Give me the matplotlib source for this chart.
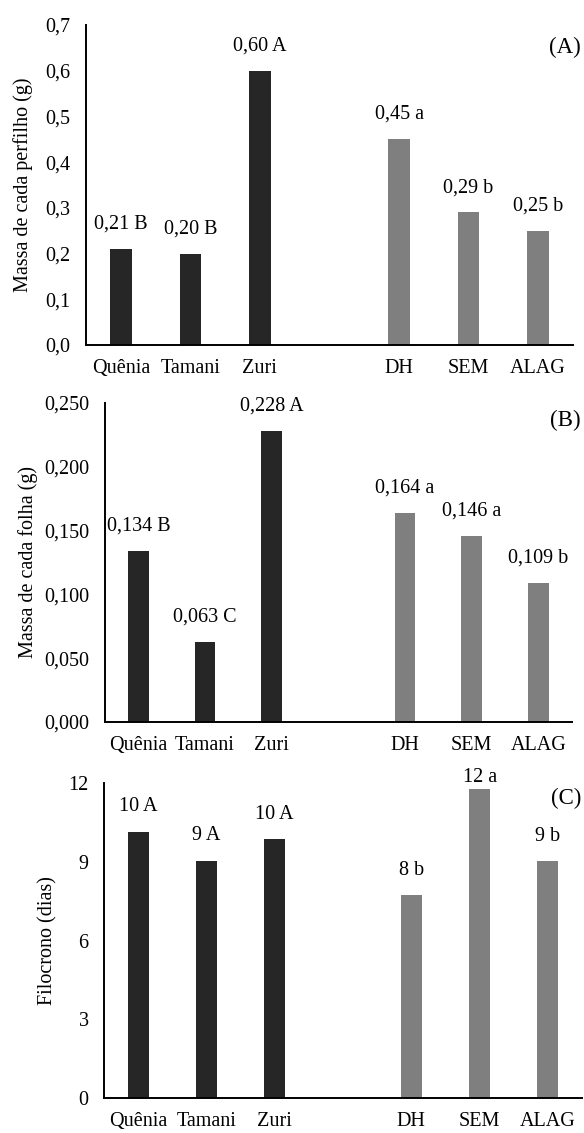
import matplotlib.pyplot as plt
from matplotlib.ticker import FuncFormatter

plt.rcParams['font.family'] = ['Liberation Serif', 'DejaVu Serif']

# categories (empty slot separates cultivars from water regimes)
cultivares = ["Quênia", "Tamani", "Zuri"]
regimes = ["DH", "SEM", "ALAG"]

# (A) Massa de cada perfilho (g)
perfilho_cult = [0.21, 0.20, 0.60]
perfilho_reg = [0.45, 0.29, 0.25]
perfilho_cult_lbl = ["0,21 B", "0,20 B", "0,60 A"]
perfilho_reg_lbl = ["0,45 a", "0,29 b", "0,25 b"]

# (B) Massa de cada folha (g)
folha_cult = [0.134, 0.063, 0.228]
folha_reg = [0.164, 0.146, 0.109]
folha_cult_lbl = ["0,134 B", "0,063 C", "0,228 A"]
folha_reg_lbl = ["0,164 a", "0,146 a", "0,109 b"]

# (C) Filocrono (dias)
filo_cult = [10.15, 9.04, 9.85]
filo_reg = [7.73, 11.76, 9.03]
filo_cult_lbl = ["10 A", "9 A", "10 A"]
filo_reg_lbl = ["8 b", "12 a", "9 b"]

dark = "#262626"
gray = "#7f7f7f"
fs = 14.5

fig = plt.figure(figsize=(5.84, 11.33), dpi=100)

panels = [
    ([0.1473, 0.6955, 0.8337, 0.2825], perfilho_cult, perfilho_reg,
     perfilho_cult_lbl, perfilho_reg_lbl, 0.7, 0.1, 1,
     "Massa de cada perfilho (g)", "(A)", 1 - 47 / 1133, -53),
    ([0.1798, 0.3628, 0.7992, 0.2815], folha_cult, folha_reg,
     folha_cult_lbl, folha_reg_lbl, 0.25, 0.05, 3,
     "Massa de cada folha (g)", "(B)", 1 - 420 / 1133, -67),
    ([0.178, 0.0309, 0.8186, 0.278], filo_cult, filo_reg,
     filo_cult_lbl, filo_reg_lbl, 12, 3, 0,
     "Filocrono (dias)", "(C)", 1 - 798 / 1133, -46),
]

for rect, vc, vr, lc, lr, ymax, step, dec, ylab, tag, tag_y, ylab_x in panels:
    ax = fig.add_axes(rect)
    names = cultivares + [""] + regimes
    x = list(range(len(names)))
    xc = x[:3]
    xr = x[4:]
    ax.bar(xc, vc, width=0.31, color=dark)
    ax.bar(xr, vr, width=0.31, color=gray)
    for xi, v, t in zip(xc + xr, vc + vr, lc + lr):
        off = 11 if v < 0.95 * ymax else 2
        ax.annotate(t, (xi, v), xytext=(0, off), textcoords="offset points",
                    ha="center", va="bottom", fontsize=fs, annotation_clip=False)
    ax.set_xlim(-0.5, len(names) - 0.5)
    ax.set_ylim(0, ymax)
    ticks = [i * step for i in range(int(round(ymax / step)) + 1)]
    ax.set_yticks(ticks)
    ax.yaxis.set_major_formatter(FuncFormatter(
        lambda v, p, d=dec: f"{v:.{d}f}".replace(".", ",")))
    ax.set_xticks(x)
    ax.set_xticklabels(names)
    ax.tick_params(axis="both", length=0, labelsize=fs)
    ax.tick_params(axis="y", pad=11)
    ax.tick_params(axis="x", pad=10)
    for s in ["top", "right"]:
        ax.spines[s].set_visible(False)
    for s in ["left", "bottom"]:
        ax.spines[s].set_linewidth(1.4)
        ax.spines[s].set_color("black")
    ax.set_ylabel(ylab, fontsize=fs)
    ax.yaxis.set_label_coords(ylab_x / (rect[2] * 584), 0.5)
    fig.text(0.995, tag_y, tag, ha="right", va="center", fontsize=fs + 2)

fig.savefig("out.png", dpi=100)
